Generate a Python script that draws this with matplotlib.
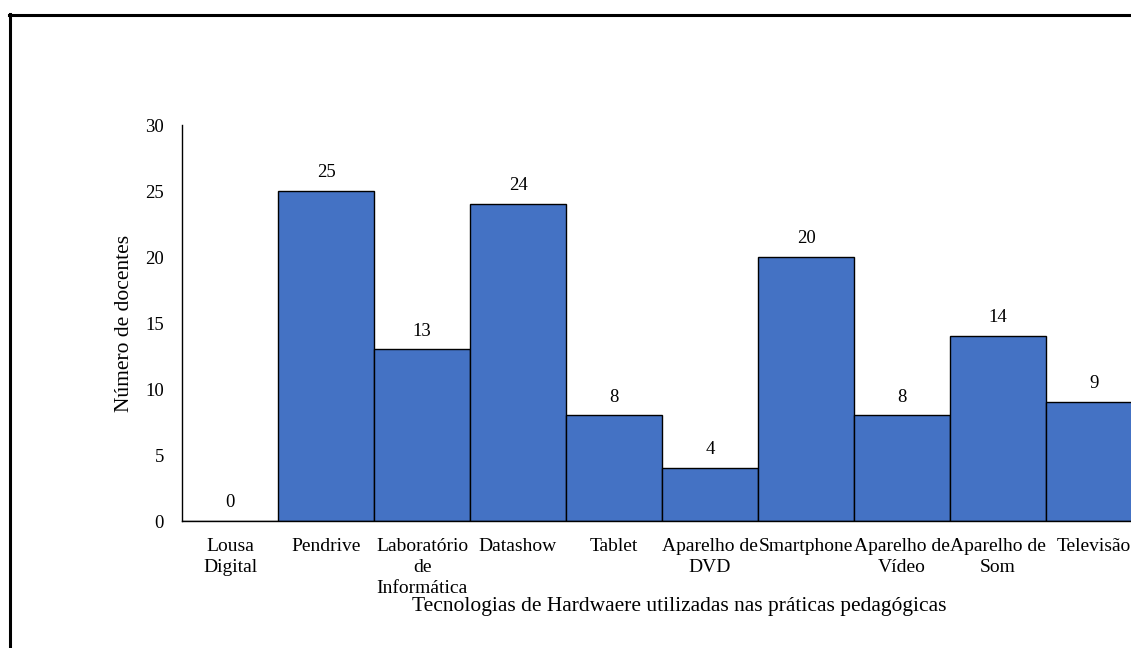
import matplotlib
matplotlib.use("Agg")
import matplotlib.pyplot as plt
from matplotlib.lines import Line2D

categories = ["Lousa\nDigital", "Pendrive", "Laboratório\nde\nInformática", "Datashow",
              "Tablet", "Aparelho de\nDVD", "Smartphone", "Aparelho de\nVídeo",
              "Aparelho de\nSom", "Televisão"]
values = [0, 25, 13, 24, 8, 4, 20, 8, 14, 9]
yticks = [0, 5, 10, 15, 20, 25, 30]

plt.rcParams['font.family'] = ['Liberation Serif', 'DejaVu Serif']

W, H = 1131, 648
fig = plt.figure(figsize=(W / 100, H / 100), dpi=100)
ax = fig.add_axes([182 / W, (H - 521) / H, 960 / W, 396 / H])

x = list(range(len(categories)))
bars = ax.bar(x, values, width=1.0, color="#4472C4", edgecolor="black", linewidth=1.0)
for xi, v in zip(x, values):
    ax.annotate(str(v), (xi, v), xytext=(0, 7), textcoords="offset points",
                ha="center", va="bottom", fontsize=13.5)

ax.set_xlim(-0.5, len(categories) - 0.5)
ax.set_ylim(0, 30)
ax.set_yticks(yticks)
ax.set_xticks(x)
ax.set_xticklabels(categories, fontsize=14, linespacing=1.32)
ax.tick_params(axis="y", length=0, pad=13, labelsize=13.5)
ax.tick_params(axis="x", length=0, pad=12)
for s in ["top", "right"]:
    ax.spines[s].set_visible(False)
ax.spines["left"].set_linewidth(1.0)
ax.spines["bottom"].set_linewidth(1.0)

ax.set_ylabel("Número de docentes", fontsize=15.5, labelpad=8)
fig.text(679 / W, 1 - 607 / H, "Tecnologias de Hardwaere utilizadas nas práticas pedagógicas",
         ha="center", va="center", fontsize=15.5)

# outer frame (left and top edges visible)
fig.add_artist(Line2D([9.5 / W, 9.5 / W], [0, 1 - 14 / H], color="black", linewidth=2.2,
                      transform=fig.transFigure))
fig.add_artist(Line2D([8.5 / W, 1], [1 - 14.5 / H, 1 - 14.5 / H], color="black", linewidth=2.2,
                      transform=fig.transFigure))

fig.savefig("out.png", dpi=100)
